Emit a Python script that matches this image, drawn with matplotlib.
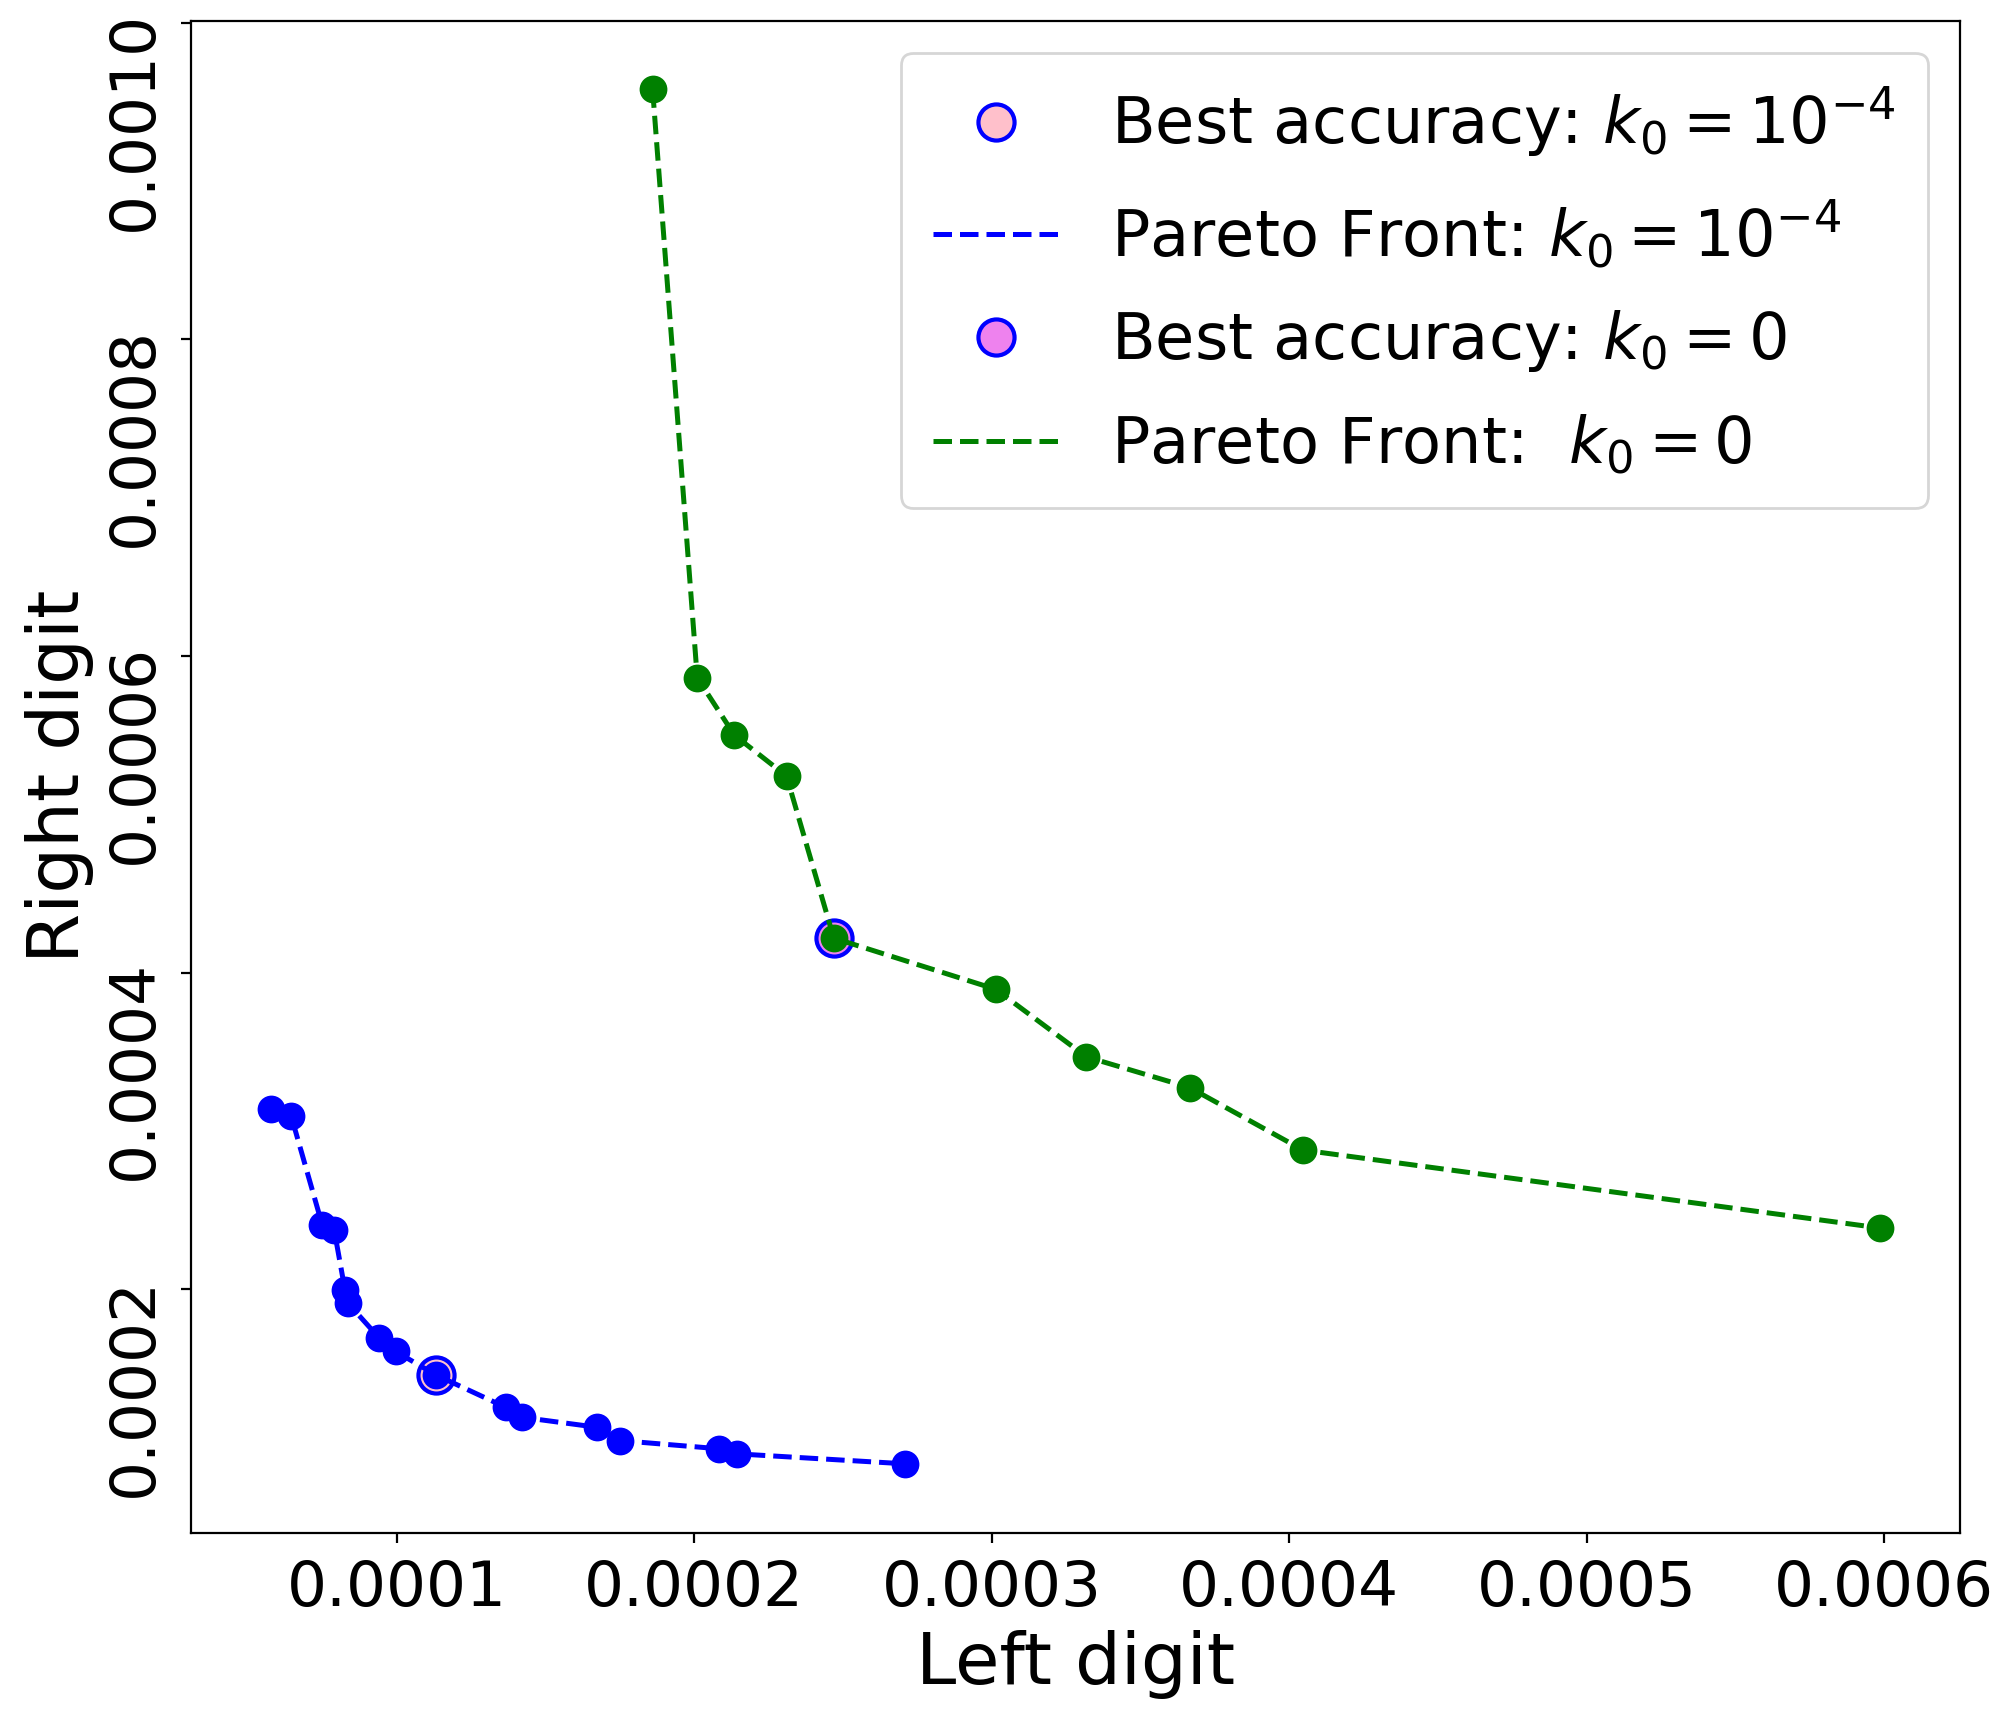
import matplotlib.pyplot as plt
from matplotlib.ticker import FormatStrFormatter
from matplotlib.transforms import offset_copy

# Pareto front, k0 = 1e-4 (blue)
left_k4 = [0.579e-4, 0.645e-4, 0.750e-4, 0.790e-4, 0.826e-4, 0.836e-4, 0.941e-4, 0.996e-4,
           1.132e-4, 1.366e-4, 1.420e-4, 1.672e-4, 1.749e-4, 2.083e-4, 2.143e-4, 2.707e-4]
right_k4 = [3.140e-4, 3.095e-4, 2.403e-4, 2.371e-4, 1.995e-4, 1.912e-4, 1.692e-4, 1.607e-4,
            1.458e-4, 1.254e-4, 1.191e-4, 1.128e-4, 1.044e-4, 0.992e-4, 0.960e-4, 0.897e-4]
best_k4 = (1.132e-4, 1.458e-4)

# Pareto front, k0 = 0 (green)
left_k0 = [1.860e-4, 2.010e-4, 2.135e-4, 2.310e-4, 2.469e-4, 3.013e-4, 3.318e-4, 3.665e-4,
           4.046e-4, 5.984e-4]
right_k0 = [9.58e-4, 5.863e-4, 5.50e-4, 5.242e-4, 4.218e-4, 3.895e-4, 3.468e-4, 3.274e-4,
            2.879e-4, 2.387e-4]
best_k0 = (2.469e-4, 4.218e-4)

fig = plt.figure(figsize=(10.005, 8.6), dpi=200)
ax = fig.add_axes([0.0955, 0.109, 0.884, 0.879])

ax.plot(best_k4[0], best_k4[1], 'o', color='pink', markeredgecolor='blue',
        markersize=13, markeredgewidth=1.5, label=r'Best accuracy: $k_0=10^{-4}$')
ax.plot(left_k4, right_k4, '--', color='b', linewidth=1.8, label=r'Pareto Front: $k_0=10^{-4}$')
ax.plot(left_k4, right_k4, 'o', color='b', markersize=9)

ax.plot(best_k0[0], best_k0[1], 'o', color='violet', markeredgecolor='blue',
        markersize=13, markeredgewidth=1.5, label=r'Best accuracy: $k_0=0$')
ax.plot(left_k0, right_k0, '--', color='g', linewidth=1.8, label=r'Pareto Front:  $k_0=0$')
ax.plot(left_k0, right_k0, 'o', color='g', markersize=9)

ax.xaxis.set_major_formatter(FormatStrFormatter('%.4f'))
ax.yaxis.set_major_formatter(FormatStrFormatter('%.4f'))
ax.tick_params(labelsize=22.7, pad=6)

ax.set_xlabel('Left digit', fontsize=26)
ax.set_ylabel('Right digit', fontsize=26)
ax.legend(loc='upper right', fontsize=23, numpoints=1, labelspacing=0.6, borderpad=0.5)

# draw once so the tick objects are final, then hang the y labels just above each tick
fig.canvas.draw()
for lab in ax.get_yticklabels():
    lab.set_rotation(90)
    lab.set_va('top')
    lab.set_transform(offset_copy(lab.get_transform(), fig=fig, x=0, y=4.5, units='points'))

fig.savefig('out.png', dpi=200)
